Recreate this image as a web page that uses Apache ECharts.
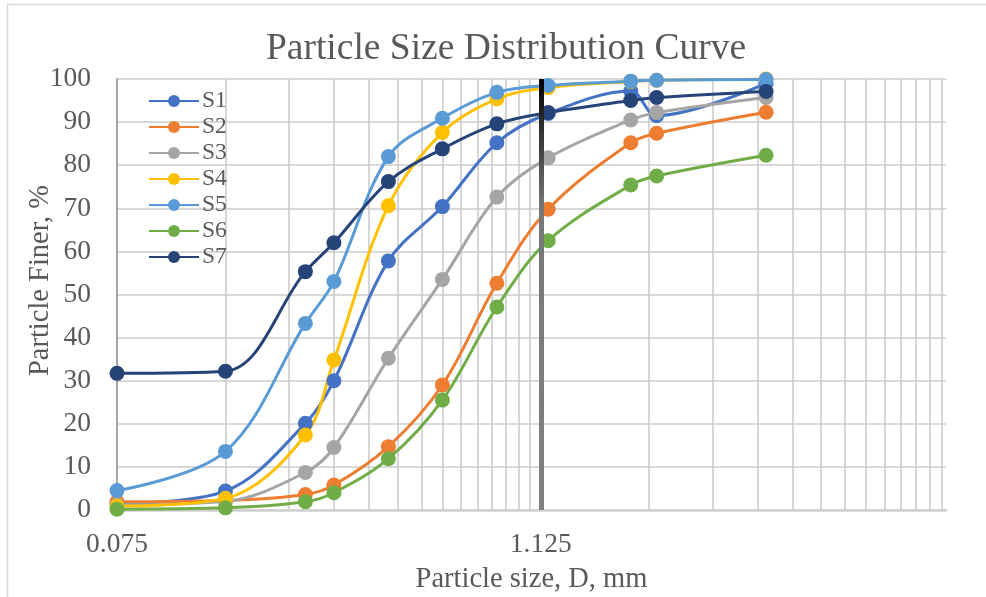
<!DOCTYPE html>
<html>
<head>
<meta charset="utf-8">
<script src="https://cdn.jsdelivr.net/npm/echarts@6/dist/echarts.min.js"></script>
<style>html,body{margin:0;padding:0;background:#fff;}#chart{width:986px;height:597px;}</style>
</head>
<body>
<div id="chart"></div>
<script>
// particle sizes, mm
var sizes = [0.075, 0.15, 0.25, 0.3, 0.425, 0.6, 0.85, 1.18, 2.0, 2.36, 4.75];
var seriesNames = ['S1', 'S2', 'S3', 'S4', 'S5', 'S6', 'S7'];
var S1 = [1.5, 4.4, 20.1, 30.0, 57.8, 70.4, 85.2, 92.0, 97.2, 91.5, 99.0];
var S2 = [1.9, 2.2, 3.6, 5.8, 14.7, 29.0, 52.6, 69.8, 85.2, 87.4, 92.3];
var S3 = [1.2, 2.0, 8.7, 14.5, 35.2, 53.5, 72.6, 81.7, 90.5, 92.2, 95.7];
var S4 = [0.9, 2.7, 17.4, 34.8, 70.6, 87.6, 95.4, 98.0, 99.4, 99.7, 100];
var S5 = [4.5, 13.6, 43.3, 53.0, 82.0, 90.9, 96.9, 98.5, 99.5, 99.7, 99.9];
var S6 = [0.2, 0.5, 1.9, 4.0, 11.9, 25.5, 47.1, 62.5, 75.4, 77.5, 82.3];
var S7 = [31.7, 32.2, 55.3, 62.0, 76.2, 83.8, 89.6, 92.2, 95.0, 95.7, 97.1];
// x axis (log, base 15 starting at 0.075)
var xMin = 0.075, xMax = 15, xBase = 15;
var xTickLabels = ['0.075', '1.125'];
var xMinorMultipliers = [2, 3, 4, 5, 6, 7, 8, 9, 10, 11, 12, 13, 14];
var verticalMarker = 1.125;
// y axis
var yMin = 0, yMax = 100, yInterval = 10;

var colors = ['#4472C4', '#ED7D31', '#A5A5A5', '#FFC000', '#5B9BD5', '#70AD47', '#264478'];
var allValues = [S1, S2, S3, S4, S5, S6, S7];

// gridline positions: 0.075 * k * 15^n
var gridValues = [];
var decades = [xMin, xMin * xBase];
decades.forEach(function (d) {
  gridValues.push(d);
  xMinorMultipliers.forEach(function (k) {
    var v = d * k;
    if (v <= xMax + 1e-9) gridValues.push(v);
  });
});
var labelValues = xTickLabels.map(Number);

var font = 'Liberation Serif';
var chart = echarts.init(document.getElementById('chart'));

var series = seriesNames.map(function (name, i) {
  return {
    name: name,
    type: 'line',
    z: 3,
    smooth: 0.35,
    symbol: 'circle',
    symbolSize: 15,
    lineStyle: { width: 3, color: colors[i] },
    itemStyle: { color: colors[i] },
    data: sizes.map(function (s, j) { return [s, allValues[i][j]]; })
  };
});
series.unshift({
  name: 'marker',
  type: 'line',
  z: 1,
  data: [],
  markLine: {
    silent: true,
    symbol: ['none', 'none'],
    label: { show: false },
    lineStyle: {
      type: 'solid',
      width: 5,
      color: new echarts.graphic.LinearGradient(0, 0, 0, 1, [
        { offset: 0, color: '#000000' },
        { offset: 0.3, color: '#777777' },
        { offset: 1, color: '#808080' }
      ])
    },
    emphasis: { disabled: true },
    data: [{ xAxis: verticalMarker }]
  }
});

chart.setOption({
  animation: false,
  color: colors,
  title: {
    text: 'Particle Size Distribution Curve',
    left: 501,
    textAlign: 'center',
    top: 25,
    textStyle: { fontFamily: font, fontSize: 37.5, fontWeight: 'normal', color: '#595959' }
  },
  legend: {
    data: seriesNames,
    orient: 'vertical',
    left: 143,
    top: 84,
    itemWidth: 50,
    itemHeight: 15,
    itemGap: 2,
    textStyle: { fontFamily: font, fontSize: 23.5, color: '#595959', padding: [0, 0, 0, -2] }
  },
  grid: { left: 117, right: 40, top: 79, bottom: 87, containLabel: false, outerBoundsMode: 'none' },
  xAxis: {
    type: 'log',
    logBase: xBase,
    min: xMin,
    max: xMax,
    name: 'Particle size, D, mm',
    nameLocation: 'middle',
    nameGap: 55,
    nameMoveOverlap: false,
    nameTextStyle: { fontFamily: font, fontSize: 28.5, color: '#595959' },
    axisLine: { show: true, lineStyle: { color: '#d0d0d0', width: 2.5 } },
    axisTick: { show: false, customValues: gridValues },
    axisLabel: {
      customValues: labelValues,
      margin: 21,
      fontFamily: font, fontSize: 27.5, color: '#595959',
      formatter: function (v) {
        var best = xTickLabels[0], bd = Infinity;
        xTickLabels.forEach(function (t) { var d = Math.abs(Number(t) - v); if (d < bd) { bd = d; best = t; } });
        return best;
      }
    },
    splitLine: { show: true, lineStyle: { color: '#c8c8c8', width: 1.5 } },
    minorSplitLine: { show: false }
  },
  yAxis: {
    type: 'value',
    min: yMin,
    max: yMax,
    interval: yInterval,
    name: 'Particle Finer, %',
    nameLocation: 'middle',
    nameGap: 62,
    nameMoveOverlap: false,
    nameTextStyle: { fontFamily: font, fontSize: 28.5, color: '#595959', padding: [0, 0, 0, 28] },
    axisLine: { show: true, lineStyle: { color: '#a6a6a6', width: 2 } },
    axisTick: { show: false },
    axisLabel: { margin: 26, fontFamily: font, fontSize: 27.5, color: '#595959' },
    splitLine: { show: true, lineStyle: { color: '#d9d9d9', width: 2 } }
  },
  graphic: [{
    type: 'rect',
    shape: { x: 7.5, y: 4.5, width: 1000, height: 700 },
    style: { fill: 'none', stroke: '#d9d9d9', lineWidth: 1.5 },
    silent: true,
    z: -1
  }],
  series: series
});
</script>
</body>
</html>
